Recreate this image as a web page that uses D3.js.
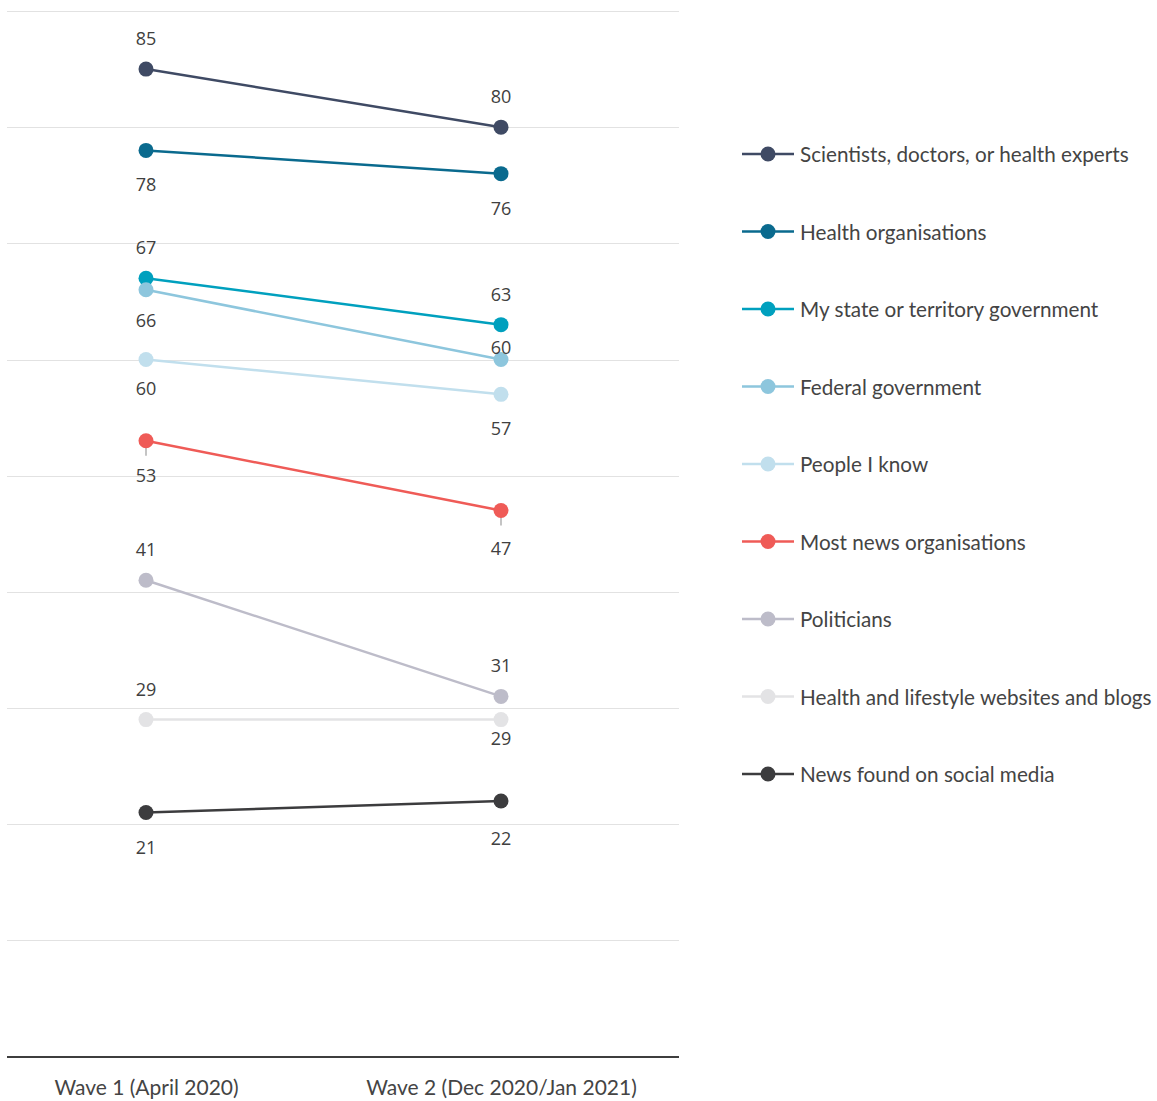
<!DOCTYPE html>
<html>
<head>
<meta charset="utf-8">
<script src="https://cdn.jsdelivr.net/npm/d3@7"></script>
<style>
  html, body { margin: 0; padding: 0; background: #fff; }
  svg { display: block; }
</style>
</head>
<body>
<svg id="chart" width="1157" height="1101"></svg>
<script>
// Survey waves on the x axis
const waves = ["Wave 1 (April 2020)", "Wave 2 (Dec 2020/Jan 2021)"];

// Information sources (series), in legend order
const sources = [
  "Scientists, doctors, or health experts",
  "Health organisations",
  "My state or territory government",
  "Federal government",
  "People I know",
  "Most news organisations",
  "Politicians",
  "Health and lifestyle websites and blogs",
  "News found on social media"
];

// Share of respondents (%) for wave 1 and wave 2
const wave1Values = [85, 78, 67, 66, 60, 53, 41, 29, 21];
const wave2Values = [80, 76, 63, 60, 57, 47, 31, 29, 22];

// Series colours
const seriesColors = [
  "#3f4a64", "#0a6a8e", "#00a0be", "#8dc6dd", "#c1dfed",
  "#ef5b57", "#bdbcc9", "#e3e3e5", "#3c3c3e"
];

// Which side of the point each value label sits on ("a" above, "b" below)
const wave1LabelSide = ["a", "b", "a", "b", "b", "b", "a", "a", "b"];
const wave2LabelSide = ["a", "b", "a", "a", "b", "b", "a", "b", "b"];

// Y-axis gridline values
const gridValues = [0, 10, 20, 30, 40, 50, 60, 70, 80, 90];

const svg = d3.select("#chart");

const plotLeft = 7, plotRight = 679;
const x = d3.scalePoint().domain(waves).range([146, 501]);
const y = d3.scaleLinear().domain([0, 90]).range([1056.5, 11]);

// Gridlines
svg.append("g")
  .selectAll("line")
  .data(gridValues.filter(v => v > 0))
  .join("line")
  .attr("x1", plotLeft).attr("x2", plotRight)
  .attr("y1", d => Math.round(y(d)) + 0.5)
  .attr("y2", d => Math.round(y(d)) + 0.5)
  .attr("stroke", "#e2e2e2")
  .attr("stroke-width", 1);

// Baseline / x axis
const xAxis = d3.axisBottom(x).tickSize(0).tickPadding(23);
const axisG = svg.append("g")
  .attr("transform", `translate(0,${Math.round(y(0))})`)
  .call(xAxis);
axisG.select(".domain").remove();
axisG.append("line")
  .attr("x1", plotLeft).attr("x2", plotRight)
  .attr("y1", 0).attr("y2", 0)
  .attr("stroke", "#3e3e3e").attr("stroke-width", 2);
axisG.selectAll(".tick text")
  .attr("font-family", "Lato, 'Open Sans', sans-serif")
  .attr("font-size", 21)
  .attr("fill", "#444")
  .attr("dy", "0.71em");

const rows = sources.map((name, i) => ({
  name,
  color: seriesColors[i],
  pts: [
    { wave: waves[0], v: wave1Values[i], side: wave1LabelSide[i] },
    { wave: waves[1], v: wave2Values[i], side: wave2LabelSide[i] }
  ]
}));

const line = d3.line().x(d => x(d.wave)).y(d => y(d.v));

// Slope lines
svg.append("g")
  .selectAll("path")
  .data(rows)
  .join("path")
  .attr("d", d => line(d.pts))
  .attr("fill", "none")
  .attr("stroke", d => d.color)
  .attr("stroke-width", 2.5);

// Short leader ticks under the news organisation points
const newsRow = rows[5];
svg.append("g")
  .selectAll("line")
  .data(newsRow.pts)
  .join("line")
  .attr("x1", d => x(d.wave)).attr("x2", d => x(d.wave))
  .attr("y1", d => y(d.v)).attr("y2", d => y(d.v) + 15)
  .attr("stroke", "#c4c4c4").attr("stroke-width", 2);

// Points
svg.append("g")
  .selectAll("g")
  .data(rows)
  .join("g")
  .selectAll("circle")
  .data(d => d.pts.map(p => ({ ...p, color: d.color })))
  .join("circle")
  .attr("cx", d => x(d.wave))
  .attr("cy", d => y(d.v))
  .attr("r", 7.5)
  .attr("fill", d => d.color);

// Value labels (a few nudged to avoid collisions)
const labelNudge = { "3-1": 18, "7-1": -16, "4-0": -6, "3-0": -4, "5-1": 3, "8-1": 3 };
svg.append("g")
  .selectAll("g")
  .data(rows.map((r, i) => ({ ...r, i })))
  .join("g")
  .selectAll("text")
  .data(d => d.pts.map((p, j) => ({ ...p, key: `${d.i}-${j}` })))
  .join("text")
  .attr("x", d => x(d.wave))
  .attr("y", d => {
    const base = d.side === "a" ? y(d.v) - 31 : y(d.v) + 34;
    return base + (labelNudge[d.key] || 0);
  })
  .attr("text-anchor", "middle")
  .attr("dominant-baseline", "central")
  .attr("font-family", "'Open Sans', 'Noto Sans', sans-serif")
  .attr("font-size", 18)
  .attr("fill", "#404040")
  .text(d => d.v);

// Legend
const legendY = d3.scalePoint().domain(sources).range([154, 774]);
const legend = svg.append("g")
  .selectAll("g")
  .data(rows)
  .join("g")
  .attr("transform", d => `translate(0,${legendY(d.name)})`);
legend.append("line")
  .attr("x1", 742).attr("x2", 794)
  .attr("stroke", d => d.color).attr("stroke-width", 2.5);
legend.append("circle")
  .attr("cx", 768).attr("r", 7.5)
  .attr("fill", d => d.color);
legend.append("text")
  .attr("x", 800)
  .attr("dominant-baseline", "central")
  .attr("font-family", "Lato, 'Open Sans', sans-serif")
  .attr("font-size", 20.7)
  .attr("fill", "#444")
  .text(d => d.name);
</script>
</body>
</html>
